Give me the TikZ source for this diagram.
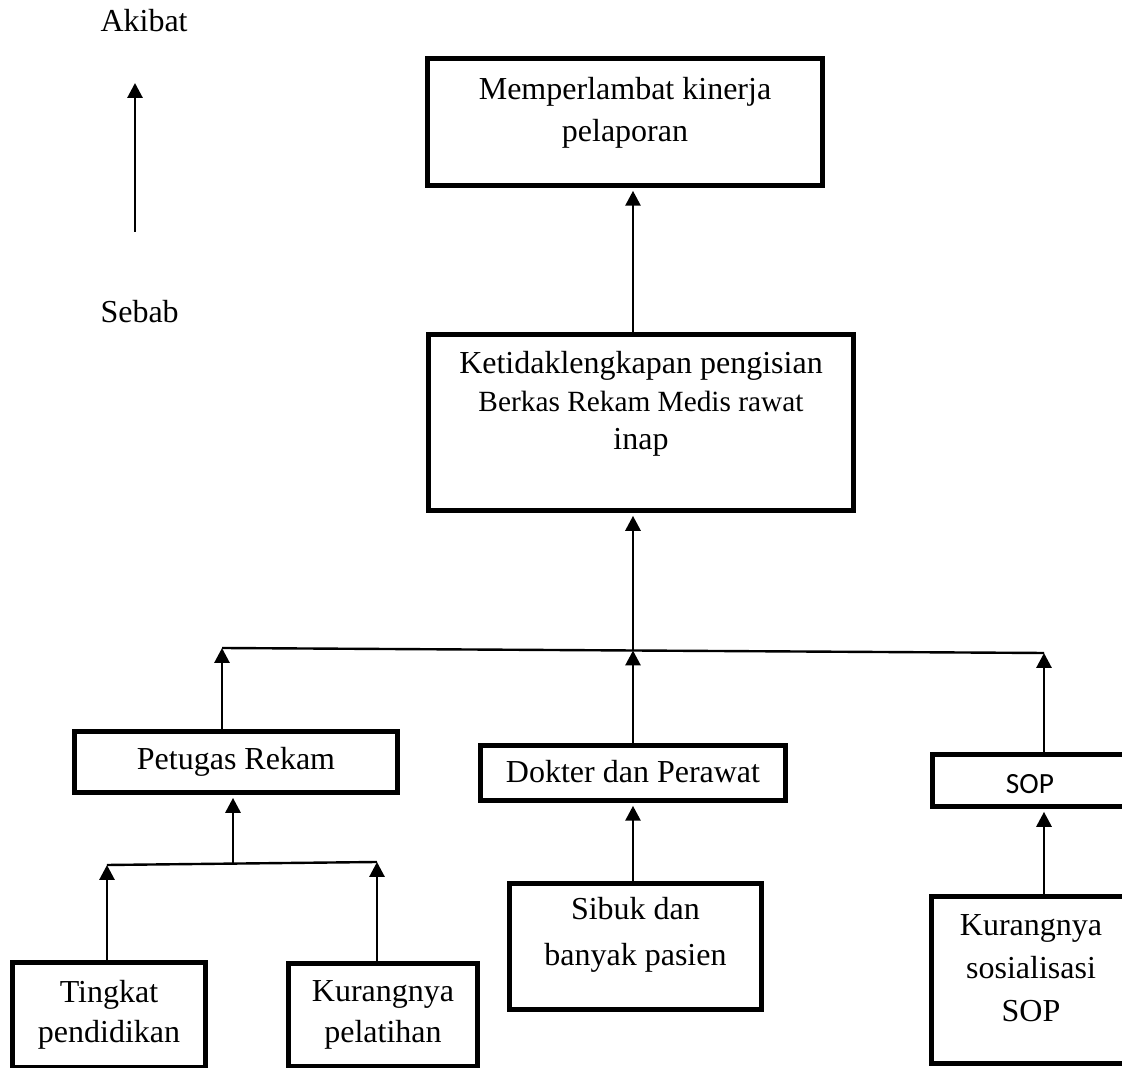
\documentclass[tikz,border=0pt]{standalone}
\usepackage{fontspec}
\setmainfont{Liberation Serif}
\newfontfamily\sopfont{Carlito}
\usetikzlibrary{arrows.meta}

\tikzset{
    box/.style={draw, line width=2pt, inner sep=0pt, align=center, text depth=0pt},
    arr/.style={line width=1.1pt, -{Triangle[length=5.6pt,width=5.6pt]}},
    link/.style={line width=0.9pt},
    legend/.style={anchor=base west, inner sep=0pt, font=\fontsize{12pt}{15pt}\selectfont}
}

\begin{document}
\begin{tikzpicture}[x=0.375pt, y=-0.375pt]
    \useasboundingbox (0, 0) rectangle (1122, 1068);
    \clip (0, 0) rectangle (1122, 1068);

    % akibat / sebab legend
    \node[legend] (akibat) at (100, 32) {Akibat};
    \node[legend] (sebab) at (100, 323) {Sebab};
    \coordinate (legtail) at (135, 232);
    \coordinate (legtip) at (135, 83);
    \draw [arr] (legtail) -- (legtip);

    % effect and main problem
    \node[box, minimum width=148.1pt, minimum height=47.6pt, text height=15pt,
        font=\fontsize{12pt}{15.75pt}\selectfont] (mem) at (625, 122)
        {Memperlambat kinerja\\pelaporan};
    \node[box, minimum width=159.4pt, minimum height=66pt, text height=20.6pt,
        font=\fontsize{12pt}{14.4pt}\selectfont] (ket) at (641, 422.5)
        {Ketidaklengkapan pengisian\\{\fontsize{11pt}{14.4pt}\selectfont Berkas Rekam Medis rawat}\\inap};

    % causes
    \node[box, minimum width=121.1pt, minimum height=22.9pt, text height=6pt,
        font=\fontsize{12pt}{15pt}\selectfont] (pet) at (236, 762) {Petugas Rekam};
    \node[box, minimum width=114.4pt, minimum height=20.6pt, text height=7.5pt,
        font=\fontsize{12pt}{15pt}\selectfont] (dok) at (633, 773) {Dokter dan Perawat};
    \node[box, minimum width=73.3pt, minimum height=19.5pt, text height=9.4pt,
        font=\sopfont\fontsize{11pt}{13pt}\selectfont] (sop) at (1030, 780.5) {SOP};

    % sub causes
    \node[box, minimum width=72.4pt, minimum height=39.2pt, text height=21pt,
        font=\fontsize{12pt}{15pt}\selectfont] (ting) at (109, 1015) {Tingkat\\pendidikan};
    \node[box, minimum width=70.9pt, minimum height=38.8pt, text height=21pt,
        font=\fontsize{12pt}{15.4pt}\selectfont] (pel) at (383, 1015) {Kurangnya\\pelatihan};
    \node[box, minimum width=94.5pt, minimum height=47.25pt, text height=13.9pt,
        font=\fontsize{12pt}{16.9pt}\selectfont] (sib) at (635.5, 946.5) {Sibuk dan\\banyak pasien};
    \node[box, minimum width=74.4pt, minimum height=62.6pt, text height=31.5pt,
        font=\fontsize{12pt}{16.3pt}\selectfont] (sos) at (1031, 980) {Kurangnya\\sosialisasi\\SOP};

    % branch lines
    \coordinate (jleft) at (222, 648);
    \coordinate (jmid) at (633, 650.5);
    \coordinate (jright) at (1044, 653);
    \coordinate (kleft) at (107, 865);
    \coordinate (kmid) at (233, 863.6);
    \coordinate (kright) at (377, 862);
    \draw [link] (jleft) -- (jright);
    \draw [link] (kleft) -- (kright);

    % arrows
    \draw [arr] (ket.north -| jmid) -- ([yshift=-1pt]mem.south -| jmid);
    \draw [arr] (jmid) -- ([yshift=-1pt]ket.south -| jmid);
    \draw [arr] (pet.north -| jleft) -- (jleft);
    \draw [arr] (dok.north -| jmid) -- (jmid);
    \draw [arr] (sop.north -| jright) -- (jright);
    \draw [arr] (kmid) -- ([yshift=-1pt]pet.south -| kmid);
    \draw [arr] (ting.north -| kleft) -- (kleft);
    \draw [arr] (pel.north -| kright) -- (kright);
    \draw [arr] (sib.north -| jmid) -- ([yshift=-1pt]dok.south -| jmid);
    \draw [arr] (sos.north -| jright) -- ([yshift=-1pt]sop.south -| jright);
\end{tikzpicture}
\end{document}
